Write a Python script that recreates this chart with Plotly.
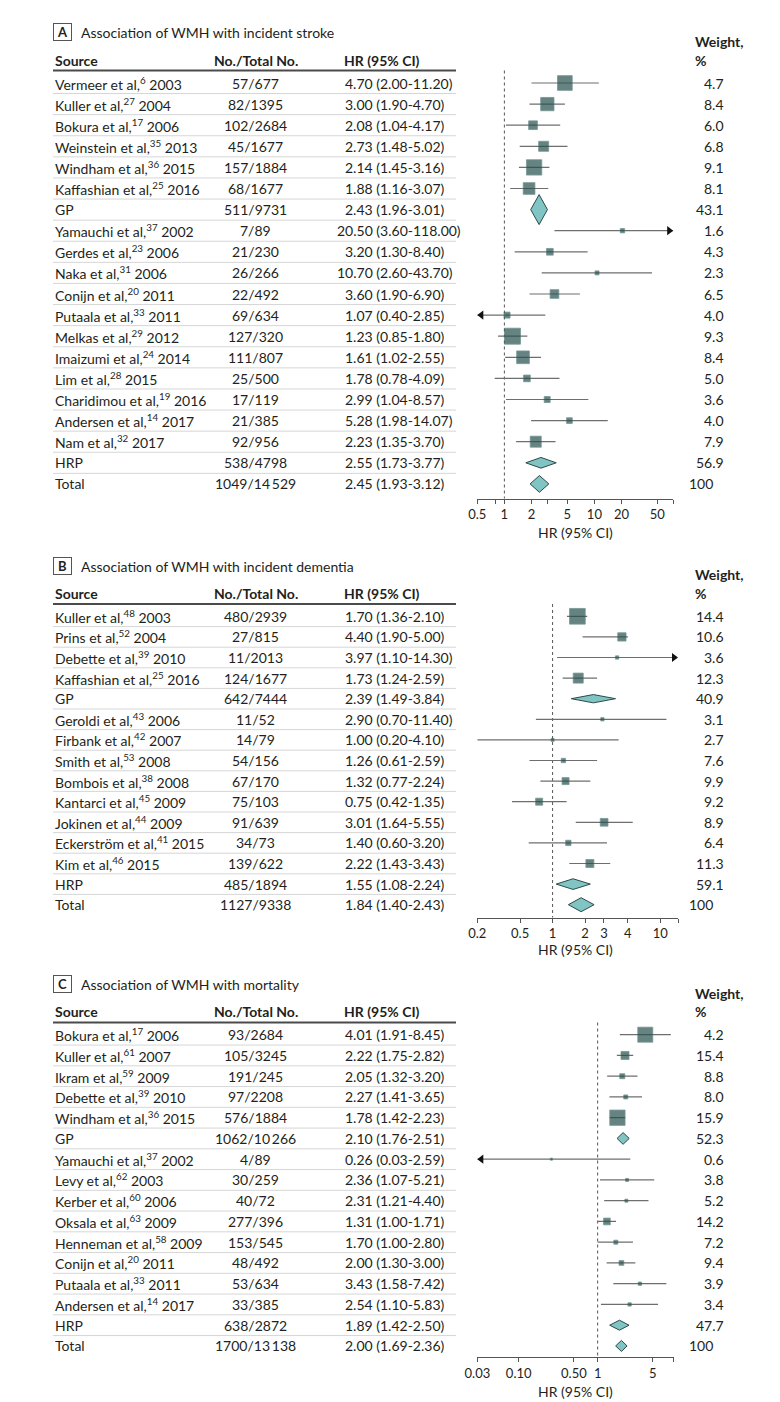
import math
import plotly.graph_objects as go

# ---------------- DATA: Panel A (incident stroke) ----------------
a_source = ["Vermeer et al", "Kuller et al", "Bokura et al", "Weinstein et al", "Windham et al",
            "Kaffashian et al", "GP", "Yamauchi et al", "Gerdes et al", "Naka et al", "Conijn et al",
            "Putaala et al", "Melkas et al", "Imaizumi et al", "Lim et al", "Charidimou et al",
            "Andersen et al", "Nam et al", "HRP", "Total"]
a_ref = [6, 27, 17, 35, 36, 25, None, 37, 23, 31, 20, 33, 29, 24, 28, 19, 14, 32, None, None]
a_year = [2003, 2004, 2006, 2013, 2015, 2016, None, 2002, 2006, 2006, 2011, 2011, 2012, 2014,
          2015, 2016, 2017, 2017, None, None]
a_counts = ["57/677", "82/1395", "102/2684", "45/1677", "157/1884", "68/1677", "511/9731", "7/89",
            "21/230", "26/266", "22/492", "69/634", "127/320", "111/807", "25/500", "17/119",
            "21/385", "92/956", "538/4798", "1049/14\u2009529"]
a_hr = [4.70, 3.00, 2.08, 2.73, 2.14, 1.88, 2.43, 20.50, 3.20, 10.70, 3.60, 1.07, 1.23, 1.61,
        1.78, 2.99, 5.28, 2.23, 2.55, 2.45]
a_lo = [2.00, 1.90, 1.04, 1.48, 1.45, 1.16, 1.96, 3.60, 1.30, 2.60, 1.90, 0.40, 0.85, 1.02,
        0.78, 1.04, 1.98, 1.35, 1.73, 1.93]
a_hi = [11.20, 4.70, 4.17, 5.02, 3.16, 3.07, 3.01, 118.00, 8.40, 43.70, 6.90, 2.85, 1.80, 2.55,
        4.09, 8.57, 14.07, 3.70, 3.77, 3.12]
a_weight = [4.7, 8.4, 6.0, 6.8, 9.1, 8.1, 43.1, 1.6, 4.3, 2.3, 6.5, 4.0, 9.3, 8.4, 5.0, 3.6,
            4.0, 7.9, 56.9, 100]
a_tickvals = [0.5, 0.8, 1, 2, 3, 5, 10, 20, 50, 75]
a_ticktext = ["0.5", "", "1", "2", "", "5", "10", "20", "50", ""]

# ---------------- DATA: Panel B (incident dementia) ----------------
b_source = ["Kuller et al", "Prins et al", "Debette et al", "Kaffashian et al", "GP",
            "Geroldi et al", "Firbank et al", "Smith et al", "Bombois et al", "Kantarci et al",
            "Jokinen et al", "Eckerström et al", "Kim et al", "HRP", "Total"]
b_ref = [48, 52, 39, 25, None, 43, 42, 53, 38, 45, 44, 41, 46, None, None]
b_year = [2003, 2004, 2010, 2016, None, 2006, 2007, 2008, 2008, 2009, 2009, 2015, 2015, None, None]
b_counts = ["480/2939", "27/815", "11/2013", "124/1677", "642/7444", "11/52", "14/79", "54/156",
            "67/170", "75/103", "91/639", "34/73", "139/622", "485/1894", "1127/9338"]
b_hr = [1.70, 4.40, 3.97, 1.73, 2.39, 2.90, 1.00, 1.26, 1.32, 0.75, 3.01, 1.40, 2.22, 1.55, 1.84]
b_lo = [1.36, 1.90, 1.10, 1.24, 1.49, 0.70, 0.20, 0.61, 0.77, 0.42, 1.64, 0.60, 1.43, 1.08, 1.40]
b_hi = [2.10, 5.00, 14.30, 2.59, 3.84, 11.40, 4.10, 2.59, 2.24, 1.35, 5.55, 3.20, 3.43, 2.24, 2.43]
b_weight = [14.4, 10.6, 3.6, 12.3, 40.9, 3.1, 2.7, 7.6, 9.9, 9.2, 8.9, 6.4, 11.3, 59.1, 100]
b_tickvals = [0.2, 0.5, 1, 2, 3, 5, 10, 14.6]
b_ticktext = ["0.2", "0.5", "1", "2", "3", "4", "10", ""]

# ---------------- DATA: Panel C (mortality) ----------------
c_source = ["Bokura et al", "Kuller et al", "Ikram et al", "Debette et al", "Windham et al", "GP",
            "Yamauchi et al", "Levy et al", "Kerber et al", "Oksala et al", "Henneman et al",
            "Conijn et al", "Putaala et al", "Andersen et al", "HRP", "Total"]
c_ref = [17, 61, 59, 39, 36, None, 37, 62, 60, 63, 58, 20, 33, 14, None, None]
c_year = [2006, 2007, 2009, 2010, 2015, None, 2002, 2003, 2006, 2009, 2009, 2011, 2011, 2017,
          None, None]
c_counts = ["93/2684", "105/3245", "191/245", "97/2208", "576/1884", "1062/10\u2009266", "4/89",
            "30/259", "40/72", "277/396", "153/545", "48/492", "53/634", "33/385", "638/2872",
            "1700/13\u2009138"]
c_hr = [4.01, 2.22, 2.05, 2.27, 1.78, 2.10, 0.26, 2.36, 2.31, 1.31, 1.70, 2.00, 3.43, 2.54, 1.89, 2.00]
c_lo = [1.91, 1.75, 1.32, 1.41, 1.42, 1.76, 0.03, 1.07, 1.21, 1.00, 1.00, 1.30, 1.58, 1.10, 1.42, 1.69]
c_hi = [8.45, 2.82, 3.20, 3.65, 2.23, 2.51, 2.59, 5.21, 4.40, 1.71, 2.80, 3.00, 7.42, 5.83, 2.50, 2.36]
c_weight = [4.2, 15.4, 8.8, 8.0, 15.9, 52.3, 0.6, 3.8, 5.2, 14.2, 7.2, 9.4, 3.9, 3.4, 47.7, 100]
c_tickvals = [0.03, 0.1, 0.5, 1, 5, 9.2]
c_ticktext = ["0.03", "0.10", "0.50", "1", "5", ""]

# ---------------- STYLE (marker sizes in px, diamond heights in px) ----------------
a_box = [14.7, 13.3, 8.7, 10, 15.3, 11.7, None, 4.3, 6.7, 4, 8.7, 6, 16, 12.7, 6.7, 6, 5.7, 11, None, None]
a_dia = [30, 10.7, 16.7]
b_box = [15.7, 8.3, 3.3, 10, None, 3.3, 3, 4.3, 7, 7, 7.7, 5.3, 8, None, None]
b_dia = [8.3, 10.7, 14]
c_box = [15, 8, 5, 4, 15.3, None, 2, 3, 3, 6.7, 4, 4.7, 3.3, 3.3, None, None]
c_dia = [11.7, 10, 11]

W, H = 780, 1402
FONT = "Lato, 'Open Sans', sans-serif"
TXT = "#231f20"
SQ = "#24504d"
SQ_LINE = "#3d6a67"
DIA = "#80c4c3"
DIA_LINE = "#2c4a48"
CI = "#6e6e6e"

panels = [
    dict(letter="A", title="Association of WMH with incident stroke",
         source=a_source, ref=a_ref, year=a_year, counts=a_counts, hr=a_hr, lo=a_lo, hi=a_hi,
         weight=a_weight, tv=a_tickvals, tt=a_ticktext, box=a_box, dia=a_dia,
         xa="x", lk="xaxis", title_y=24, header_y=52.5, rule_y=62.5, row0=75, step=21.1,
         axis_y=490.5, axtitle_y=524, px0=469.3, px1=665.2, rmin=0.5, rmax=75.1,
         lo_arrow=0.5, hi_arrow=75),
    dict(letter="B", title="Association of WMH with incident dementia",
         source=b_source, ref=b_ref, year=b_year, counts=b_counts, hr=b_hr, lo=b_lo, hi=b_hi,
         weight=b_weight, tv=b_tickvals, tt=b_ticktext, box=b_box, dia=b_dia,
         xa="x2", lk="xaxis2", title_y=558, header_y=585, rule_y=596, row0=608.3, step=20.6,
         axis_y=909.5, axtitle_y=941.5, px0=469.3, px1=670, rmin=0.2, rmax=14.6,
         lo_arrow=0.2, hi_arrow=14),
    dict(letter="C", title="Association of WMH with mortality",
         source=c_source, ref=c_ref, year=c_year, counts=c_counts, hr=c_hr, lo=c_lo, hi=c_hi,
         weight=c_weight, tv=c_tickvals, tt=c_ticktext, box=c_box, dia=c_dia,
         xa="x3", lk="xaxis3", title_y=976, header_y=1004, rule_y=1014.5, row0=1026.7, step=20.75,
         axis_y=1349.3, axtitle_y=1383, px0=469.3, px1=666, rmin=0.0299, rmax=9.27,
         lo_arrow=0.031, hi_arrow=9.2),
]

fig = go.Figure()
annotations = []
shapes = []


def txt(x, y, s, anchor="left", size=14, color=TXT, **kw):
    d = dict(xref="paper", yref="paper", x=x / W, y=1 - y / H, text=s, showarrow=False,
             xanchor=anchor, yanchor="middle", font=dict(family=FONT, size=size, color=color))
    d.update(kw)
    annotations.append(d)


def hline(x0, x1, y, color, width):
    shapes.append(dict(type="line", xref="paper", yref="paper", x0=x0 / W, x1=x1 / W,
                       y0=1 - y / H, y1=1 - y / H, line=dict(color=color, width=width)))


layout_axes = {}
for p in panels:
    n = len(p["source"])
    ys = [p["row0"] + i * p["step"] for i in range(n)]
    lmin, lmax = math.log10(p["rmin"]), math.log10(p["rmax"])
    ppd = (p["px1"] - p["px0"]) / (lmax - lmin)

    # title with boxed letter
    txt(45, p["title_y"], "<b>%s</b>" % p["letter"], size=13, bordercolor="#555", borderwidth=1,
        borderpad=2, width=13, height=12, align="center")
    txt(71, p["title_y"], p["title"], size=14)

    # headers
    txt(45, p["header_y"], "<b>Source</b>")
    txt(247.7, p["header_y"], "<b>No./Total No.</b>", anchor="center")
    txt(334.3, p["header_y"], "<b>HR (95% CI)</b>")
    txt(685, p["header_y"] - 19, "<b>Weight,</b>")
    txt(685, p["header_y"], "<b>%</b>")
    hline(45, 448, p["rule_y"], "#4a4a4a", 2)

    # rows
    for i in range(n):
        y = ys[i]
        name = p["source"][i]
        if p["ref"][i] is not None:
            label = "%s,<sup>%d</sup> %d" % (name, p["ref"][i], p["year"][i])
        else:
            label = name
        txt(45, y, label)
        txt(247.7, y, p["counts"][i], anchor="center")
        hr, lo, hi = p["hr"][i], p["lo"][i], p["hi"][i]
        ndig = len(str(int(hr)))
        txt(335 - (ndig - 1) * 8.2, y, "%.2f (%.2f-%.2f)" % (hr, lo, hi))
        w = p["weight"][i]
        if float(w).is_integer() and w >= 100:
            txt(706.5, y, "%d" % w, anchor="right")
        else:
            txt(718, y, "%.1f" % w, anchor="right")
        if i < n - 1:
            hline(45, 448, y + p["step"] / 2, "#d6d6d6", 1)

    # dotted null line at HR = 1
    fig.add_trace(go.Scatter(x=[1, 1], y=[p["rule_y"], p["axis_y"]], mode="lines",
                             line=dict(color="#555", width=1, dash="dot"),
                             xaxis=p["xa"], yaxis="y", hoverinfo="skip", showlegend=False))

    # CI lines
    cx, cy = [], []
    arrows_r, arrows_l = [], []
    for i in range(n):
        if p["source"][i] in ("GP", "HRP", "Total"):
            continue
        lo = max(p["lo"][i], p["rmin"])
        hi = min(p["hi"][i], p["rmax"])
        cx += [lo, hi, None]
        cy += [ys[i], ys[i], None]
        if p["hi"][i] > p["hi_arrow"]:
            arrows_r.append((10 ** (lmax - 4 / ppd), ys[i]))
        if p["lo"][i] < p["lo_arrow"]:
            arrows_l.append((10 ** (lmin + 4 / ppd), ys[i]))
    fig.add_trace(go.Scatter(x=cx, y=cy, mode="lines", line=dict(color=CI, width=1.2),
                             xaxis=p["xa"], yaxis="y", hoverinfo="skip", showlegend=False))

    # study squares
    sx, sy, ss = [], [], []
    for i in range(n):
        if p["box"][i] is None:
            continue
        sx.append(p["hr"][i]); sy.append(ys[i]); ss.append(p["box"][i])
    fig.add_trace(go.Scatter(x=sx, y=sy, mode="markers", cliponaxis=False,
                             marker=dict(symbol="square", size=ss, color=SQ,
                                         line=dict(color=SQ_LINE, width=0.8)),
                             xaxis=p["xa"], yaxis="y", hoverinfo="skip", showlegend=False))

    # arrows for truncated intervals
    for pts, sym in ((arrows_r, "triangle-right"), (arrows_l, "triangle-left")):
        if pts:
            fig.add_trace(go.Scatter(x=[a[0] for a in pts], y=[a[1] for a in pts], mode="markers",
                                     cliponaxis=False,
                                     marker=dict(symbol=sym, size=8, color="#111", line=dict(width=0)),
                                     xaxis=p["xa"], yaxis="y", hoverinfo="skip", showlegend=False))

    # pooled diamonds
    dx, dy = [], []
    k = 0
    for i in range(n):
        if p["source"][i] not in ("GP", "HRP", "Total"):
            continue
        h = p["dia"][k] / 2
        k += 1
        y = ys[i]
        dx += [p["lo"][i], p["hr"][i], p["hi"][i], p["hr"][i], p["lo"][i], None]
        dy += [y, y - h, y, y + h, y, None]
    fig.add_trace(go.Scatter(x=dx, y=dy, mode="lines", fill="toself", fillcolor=DIA,
                             line=dict(color=DIA_LINE, width=1), cliponaxis=False,
                             xaxis=p["xa"], yaxis="y", hoverinfo="skip", showlegend=False))

    # axis
    layout_axes[p["lk"]] = dict(
        type="log", domain=[p["px0"] / W, p["px1"] / W], range=[lmin, lmax],
        anchor="free", position=1 - p["axis_y"] / H, showline=True, linecolor="#555",
        linewidth=1, ticks="outside", ticklen=4, tickcolor="#555", tickwidth=1,
        tickvals=p["tv"], ticktext=p["tt"], tickfont=dict(family=FONT, size=13, color=TXT),
        showgrid=False, zeroline=False, fixedrange=True, automargin=False)
    txt(567, p["axtitle_y"], "HR (95% CI)", anchor="center", size=14)

fig.update_layout(
    width=W, height=H, autosize=False,
    margin=dict(l=0, r=0, t=0, b=0, pad=0, autoexpand=False),
    paper_bgcolor="white", plot_bgcolor="rgba(0,0,0,0)",
    showlegend=False,
    yaxis=dict(range=[H, 0], domain=[0, 1], visible=False, fixedrange=True, automargin=False),
    annotations=annotations, shapes=shapes,
    **layout_axes,
)

fig.write_html("out.html")
